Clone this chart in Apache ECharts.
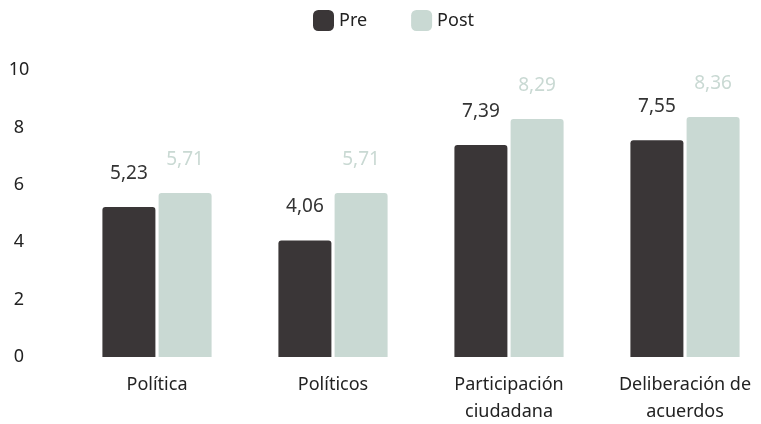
<!DOCTYPE html>
<html>
<head>
<meta charset="utf-8">
<script src="https://cdn.jsdelivr.net/npm/echarts@6/dist/echarts.min.js"></script>
<style>
  html, body { margin: 0; padding: 0; background: #fff; }
  #chart { width: 761px; height: 424px; }
</style>
</head>
<body>
<div id="chart"></div>
<script>
const categories = ['Política', 'Políticos', 'Participación\nciudadana', 'Deliberación de\nacuerdos'];
const preValues = [5.23, 4.06, 7.39, 7.55];
const postValues = [5.71, 5.71, 8.29, 8.36];

const font = 'Noto Sans';
const fmt = p => p.value.toFixed(2).replace('.', ',');

const chart = echarts.init(document.getElementById('chart'));
chart.setOption({
  backgroundColor: '#fff',
  textStyle: { fontFamily: font },
  legend: {
    top: 5,
    left: 308,
    itemWidth: 21,
    itemHeight: 21,
    itemGap: 44,
    textStyle: { fontSize: 18, color: '#222', fontFamily: font },
    data: ['Pre', 'Post']
  },
  // the plot runs a little past the right edge in the original
  grid: { left: 69, width: 704, top: 70, height: 287, outerBoundsMode: 'none' },
  xAxis: {
    type: 'category',
    data: categories,
    axisLine: { show: false },
    axisTick: { show: false },
    axisLabel: { fontSize: 18, color: '#222', margin: 14, lineHeight: 27, interval: 0 }
  },
  yAxis: {
    type: 'value',
    min: 0,
    max: 10,
    interval: 2,
    splitLine: { show: false },
    axisLine: { show: false },
    axisLabel: { fontSize: 18, color: '#222', align: 'center', margin: 50 }
  },
  series: [
    {
      name: 'Pre',
      type: 'bar',
      data: preValues,
      barWidth: 53,
      barGap: '6%',
      itemStyle: { color: '#3a3637', borderRadius: [3, 3, 0, 0] },
      label: { show: true, position: 'top', distance: 24, fontSize: 19, color: '#333', formatter: fmt }
    },
    {
      name: 'Post',
      type: 'bar',
      data: postValues,
      barWidth: 53,
      itemStyle: { color: '#c9d9d3', borderRadius: [3, 3, 0, 0] },
      label: { show: true, position: 'top', distance: 24, fontSize: 19, color: '#c9d9d3', formatter: fmt }
    }
  ]
});
</script>
</body>
</html>
